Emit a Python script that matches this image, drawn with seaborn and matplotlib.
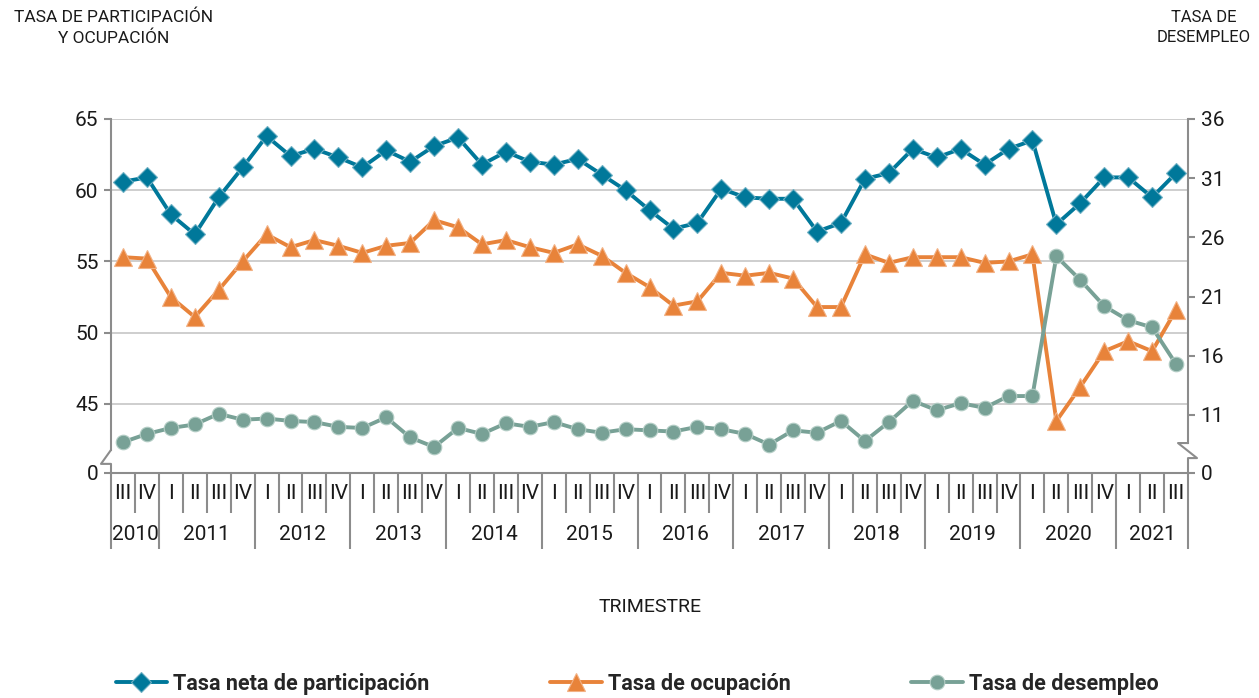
import numpy as np
import pandas as pd
import seaborn as sns
import matplotlib
matplotlib.use("Agg")
import matplotlib.pyplot as plt

# quarters from 2010-III to 2021-III
quarters = ["III", "IV"] + ["I", "II", "III", "IV"] * 10 + ["I", "II", "III"]
years = ["2010", "2011", "2012", "2013", "2014", "2015", "2016", "2017",
         "2018", "2019", "2020", "2021"]
quarters_per_year = [2, 4, 4, 4, 4, 4, 4, 4, 4, 4, 4, 3]

# values
participacion = [60.6, 60.9, 58.3, 56.9, 59.5, 61.6, 63.8, 62.4, 62.9, 62.3,
                 61.6, 62.8, 62.0, 63.1, 63.7, 61.8, 62.7, 62.0, 61.8, 62.2,
                 61.1, 60.0, 58.6, 57.3, 57.7, 60.1, 59.5, 59.4, 59.4, 57.1,
                 57.7, 60.8, 61.2, 62.9, 62.3, 62.9, 61.8, 62.9, 63.5, 57.6,
                 59.1, 60.9, 60.9, 59.5, 61.2]
ocupacion = [55.3, 55.2, 52.5, 51.1, 53.0, 55.0, 56.9, 56.0, 56.5, 56.1,
             55.6, 56.1, 56.3, 57.9, 57.4, 56.2, 56.5, 56.0, 55.6, 56.2,
             55.4, 54.2, 53.2, 51.9, 52.2, 54.2, 54.0, 54.2, 53.8, 51.8,
             51.8, 55.5, 54.9, 55.3, 55.3, 55.3, 54.9, 55.0, 55.5, 43.8,
             46.2, 48.7, 49.4, 48.7, 51.6]
desempleo = [8.7, 9.4, 9.9, 10.2, 11.1, 10.6, 10.7, 10.5, 10.4, 10.0,
             9.9, 10.8, 9.1, 8.3, 9.9, 9.4, 10.3, 10.0, 10.4, 9.8,
             9.5, 9.8, 9.7, 9.6, 10.0, 9.8, 9.4, 8.5, 9.7, 9.5,
             10.5, 8.8, 10.4, 12.2, 11.4, 12.0, 11.6, 12.6, 12.6, 24.4,
             22.4, 20.2, 19.0, 18.4, 15.3]

left_ticks = [45, 50, 55, 60, 65]
right_ticks = [11, 16, 21, 26, 31, 36]

BLUE = "#00789a"
ORANGE = "#e8833a"
GREEN = "#78a196"
AXIS = "#8c8c8c"
TEXT = "#1a1a1a"

sns.set_theme(style="white")
plt.rcParams["font.family"] = ["Roboto", "DejaVu Sans"]

df = pd.DataFrame({
    "pos": np.arange(len(quarters)),
    "participacion": participacion,
    "ocupacion": ocupacion,
    "desempleo": desempleo,
})

fig, ax = plt.subplots(figsize=(12.59, 6.98), dpi=100)
fig.subplots_adjust(left=111 / 1259, right=1188 / 1259,
                    top=1 - 119 / 698, bottom=1 - 473 / 698)
ax2 = ax.twinx()

sns.lineplot(data=df, x="pos", y="participacion", ax=ax, color=BLUE,
             marker="D", markersize=10, linewidth=2.8,
             markeredgecolor="#6fb0c4", markeredgewidth=0.8,
             label="Tasa neta de participación")
sns.lineplot(data=df, x="pos", y="ocupacion", ax=ax, color=ORANGE,
             marker="^", markersize=13, linewidth=2.8,
             markeredgecolor="#f2b184", markeredgewidth=0.8,
             label="Tasa de ocupación")
sns.lineplot(data=df, x="pos", y="desempleo", ax=ax2, color=GREEN,
             marker="o", markersize=10.5, linewidth=2.8,
             markeredgecolor="#b3cdc5", markeredgewidth=0.8,
             label="Tasa de desempleo")

# broken axes: bottom of each scale stands for 0
lo_left, lo_right = 40.15, 6.1
ax.set_ylim(lo_left, 65)
ax2.set_ylim(lo_right, 36)
ax.set_xlim(-0.5, len(quarters) - 0.5)

ax.set_yticks([lo_left] + left_ticks)
ax.set_yticklabels(["0"] + [str(t) for t in left_ticks])
ax2.set_yticks([lo_right] + right_ticks)
ax2.set_yticklabels(["0"] + [str(t) for t in right_ticks])

ax.grid(axis="y", color="#c6c6c6", linewidth=1.2)
ax.grid(axis="x", visible=False)
ax2.grid(False)
ax.set_axisbelow(True)

for a in (ax, ax2):
    for s in a.spines.values():
        s.set_visible(False)
    a.set_xlabel("")
    a.set_ylabel("")

ax.spines["bottom"].set_visible(True)
ax.spines["bottom"].set_color(AXIS)
ax.spines["bottom"].set_linewidth(1.5)
ax.spines["left"].set_visible(True)
ax.spines["left"].set_color(AXIS)
ax.spines["left"].set_linewidth(1.5)
ax.spines["left"].set_bounds(41.77, 65)
ax2.spines["right"].set_visible(True)
ax2.spines["right"].set_color(AXIS)
ax2.spines["right"].set_linewidth(1.5)
ax2.spines["right"].set_bounds(8.63, 36)

# zig-zag break marks
tl = ax.get_yaxis_transform()
ax.plot([0, -10 / 1077, 0, 0], [41.77, 40.79, 40.79, lo_left], transform=tl,
        color=AXIS, linewidth=1.5, clip_on=False)
tr = ax2.get_yaxis_transform()
ax2.plot([1, 1 - 10 / 1077, 1 + 9 / 1077, 1, 1], [8.63, 8.63, 7.36, 7.36, lo_right],
         transform=tr, color=AXIS, linewidth=1.5, clip_on=False)

ax.tick_params(axis="y", which="major", left=True, length=5, width=1.5,
               color=AXIS, labelsize=15, pad=4, labelcolor=TEXT)
ax2.tick_params(axis="y", which="major", right=True, length=5, width=1.5,
                color=AXIS, labelsize=15, pad=4, labelcolor=TEXT)

# x axis: quarter separators (minor) and year separators (major)
bounds = np.arange(len(quarters) + 1) - 0.5
year_edges = np.concatenate([[0], np.cumsum(quarters_per_year)]) - 0.5
ax.set_xticks(year_edges)
ax.set_xticklabels([])
ax.set_xticks(bounds, minor=True)
ax.tick_params(axis="x", which="major", bottom=True, direction="out",
               length=54.7, width=1.5, color=AXIS)
ax.tick_params(axis="x", which="minor", bottom=True, direction="out",
               length=28.8, width=1.5, color=AXIS)

for i, q in enumerate(quarters):
    ax.annotate(q, xy=(i, 0), xycoords=("data", "axes fraction"),
                xytext=(0, -15), textcoords="offset points",
                ha="center", va="center", fontsize=15, color=TEXT)
for k, y in enumerate(years):
    mid = (year_edges[k] + year_edges[k + 1]) / 2
    ax.annotate(y, xy=(mid, 0), xycoords=("data", "axes fraction"),
                xytext=(0, -44.6), textcoords="offset points",
                ha="center", va="center", fontsize=15, color=TEXT)

# axis titles
fig.text(114 / 1259, 1 - 10 / 698, "TASA DE PARTICIPACIÓN\nY OCUPACIÓN",
         ha="center", va="top", fontsize=12.5, linespacing=1.4, color=TEXT)
fig.text(1204 / 1259, 1 - 10 / 698, "TASA DE\nDESEMPLEO",
         ha="center", va="top", fontsize=12, linespacing=1.45, color=TEXT)
fig.text(650 / 1259, 1 - 607 / 698, "TRIMESTRE", ha="center", va="center",
         fontsize=14, color=TEXT)

# legend below
h1, l1 = ax.get_legend_handles_labels()
h2, l2 = ax2.get_legend_handles_labels()
for a in (ax, ax2):
    if a.get_legend() is not None:
        a.get_legend().remove()
fig.legend(h1 + h2, l1 + l2, loc="center", bbox_to_anchor=(0.506, 1 - 684 / 698),
           ncol=3, frameon=False, columnspacing=5.6, handlelength=2.4,
           handletextpad=0.28, prop={"weight": "bold", "size": 15.5})

fig.savefig("out.png", dpi=100)
